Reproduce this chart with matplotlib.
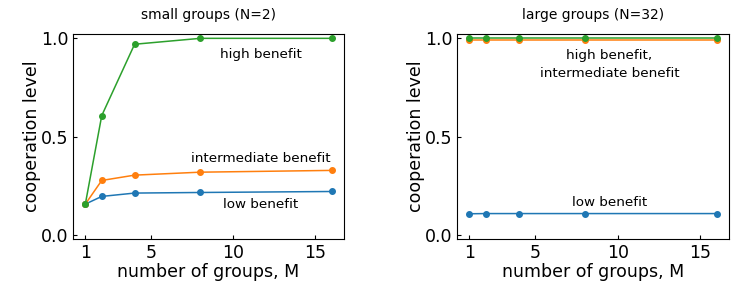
import matplotlib.pyplot as plt

M = [1, 2, 4, 8, 16]

# small groups (N=2)
small_low = [0.157, 0.196, 0.213, 0.216, 0.221]
small_mid = [0.157, 0.277, 0.304, 0.319, 0.328]
small_high = [0.157, 0.606, 0.968, 0.998, 0.998]

# large groups (N=32)
large_low = [0.108, 0.109, 0.109, 0.109, 0.109]
large_mid = [0.990, 0.990, 0.990, 0.990, 0.990]
large_high = [0.998, 0.998, 0.998, 0.998, 0.998]

fig = plt.figure(figsize=(7.47, 2.94), dpi=100)
ax1 = fig.add_axes([73/747, 1-239/294, (344-73)/747, (239-34)/294])
ax2 = fig.add_axes([457/747, 1-239/294, (729-457)/747, (239-34)/294])

for ax, low, mid, high, title in [(ax1, small_low, small_mid, small_high, 'small groups (N=2)'),
                                  (ax2, large_low, large_mid, large_high, 'large groups (N=32)')]:
    ax.plot(M, low, 'o-', color='tab:blue', ms=4, lw=1.1)
    ax.plot(M, mid, 'o-', color='tab:orange', ms=4, lw=1.1)
    ax.plot(M, high, 'o-', color='tab:green', ms=4, lw=1.1)
    ax.set_ylim(-0.02, 1.02)
    ax.set_xticks([1, 5, 10, 15])
    ax.set_yticks([0.0, 0.5, 1.0])
    ax.tick_params(direction='in', labelsize=12.5, length=3)
    ax.set_xlabel('number of groups, M', fontsize=12.5, labelpad=1)
    ax.set_ylabel('cooperation level', fontsize=12.5, labelpad=0)
    ax.set_title(title, fontsize=10, pad=11)

ax1.text(11.7, 0.915, 'high benefit', ha='center', va='center', fontsize=9.7)
ax1.text(11.7, 0.39, 'intermediate benefit', ha='center', va='center', fontsize=9.7)
ax1.text(11.7, 0.155, 'low benefit', ha='center', va='center', fontsize=9.7)

ax2.text(9.5, 0.865, 'high benefit,\nintermediate benefit', ha='center', va='center',
         fontsize=9.7, linespacing=1.5)
ax2.text(9.5, 0.165, 'low benefit', ha='center', va='center', fontsize=9.7)

fig.savefig('out.png', dpi=100)
